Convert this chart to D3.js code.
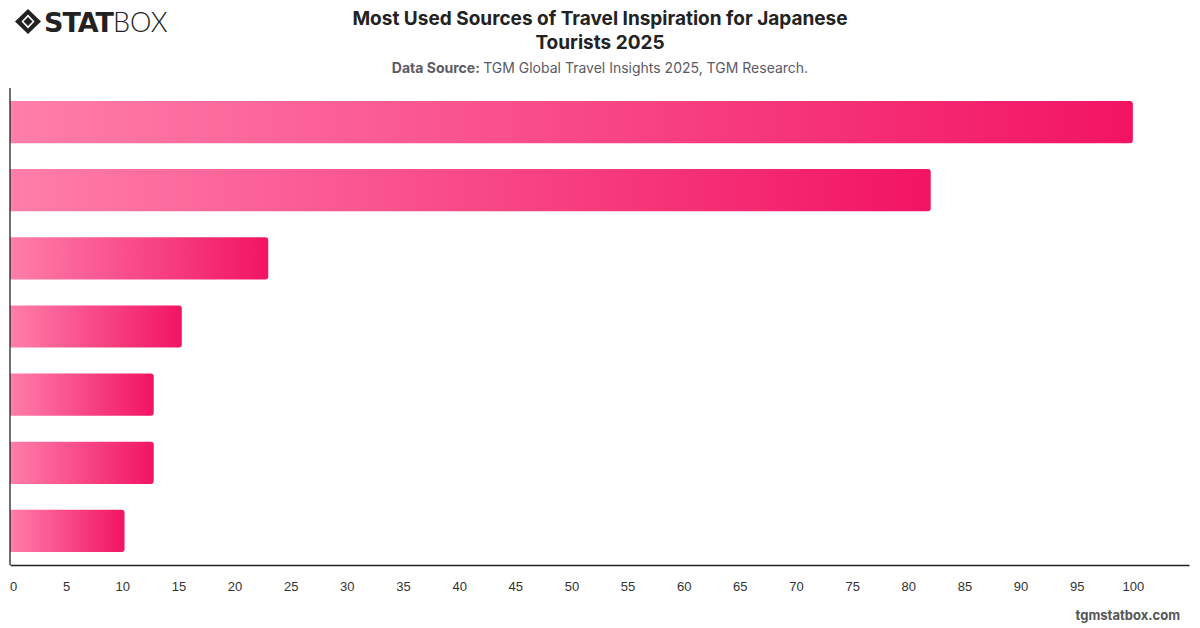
<!DOCTYPE html>
<html>
<head>
<meta charset="utf-8">
<script src="https://cdn.jsdelivr.net/npm/d3@7"></script>
<style>
  body { margin: 0; background: #fff; }
  svg { font-family: Inter, "Noto Sans", sans-serif; }
</style>
</head>
<body>
<svg id="chart" width="1200" height="628"></svg>
<script>
// data (category names are not shown on the chart)
var categories = ['Source 1', 'Source 2', 'Source 3', 'Source 4', 'Source 5', 'Source 6', 'Source 7'];
var values = [100, 82, 23, 15.3, 12.8, 12.8, 10.2];
var tickValues = [0, 5, 10, 15, 20, 25, 30, 35, 40, 45, 50, 55, 60, 65, 70, 75, 80, 85, 90, 95, 100];

var svg = d3.select('#chart');

var margin = { top: 88, left: 10, bottom: 63, right: 11 };
var width = 1200 - margin.left - margin.right;
var height = 628 - margin.top - margin.bottom;

var data = categories.map(function(c, i) { return { key: c, value: values[i] }; });

// gradient for bars
var defs = svg.append('defs');
var grad = defs.append('linearGradient')
  .attr('id', 'barGrad')
  .attr('x1', '0%').attr('x2', '100%')
  .attr('y1', '0%').attr('y2', '0%');
grad.append('stop').attr('offset', '0%').attr('stop-color', '#ff7eaa');
grad.append('stop').attr('offset', '100%').attr('stop-color', '#f21463');

var xScale = d3.scaleLinear()
  .domain([0, 105])
  .range([0, width]);

var yScale = d3.scaleBand()
  .domain(categories)
  .range([0, height])
  .paddingInner(0.38)
  .paddingOuter(0.19);

var g = svg.append('g')
  .attr('transform', 'translate(' + margin.left + ',' + margin.top + ')');

// bars, rounded on the right end only
var r = 3;
g.append('g')
  .attr('class', 'bars')
  .selectAll('path')
  .data(data)
  .enter()
  .append('path')
  .attr('d', function(d) {
    var x0 = 0, x1 = xScale(d.value);
    var y0 = yScale(d.key), h = yScale.bandwidth();
    return 'M' + x0 + ',' + y0 +
      'H' + (x1 - r) +
      'Q' + x1 + ',' + y0 + ' ' + x1 + ',' + (y0 + r) +
      'V' + (y0 + h - r) +
      'Q' + x1 + ',' + (y0 + h) + ' ' + (x1 - r) + ',' + (y0 + h) +
      'H' + x0 + 'Z';
  })
  .attr('fill', 'url(#barGrad)');

// x axis
var xAxis = d3.axisBottom(xScale)
  .tickValues(tickValues)
  .tickSize(0)
  .tickPadding(17)
  .tickFormat(d3.format('d'));

var xg = g.append('g')
  .attr('class', 'x-axis')
  .attr('transform', 'translate(0,' + height + ')')
  .call(xAxis);
xg.select('.domain').attr('stroke', '#222').attr('stroke-width', 1.3);
xg.selectAll('text').attr('font-size', 13).attr('fill', '#333');
xg.selectAll('.tick').filter(function(d) { return d === 0; })
  .select('text').attr('dx', 3);

// y axis line
g.append('line')
  .attr('x1', 0).attr('x2', 0)
  .attr('y1', 0).attr('y2', height)
  .attr('stroke', '#222').attr('stroke-width', 1.3);

// title
svg.append('text')
  .attr('x', 600).attr('y', 25)
  .attr('text-anchor', 'middle')
  .attr('font-size', 19).attr('font-weight', 'bold').attr('fill', '#222')
  .text('Most Used Sources of Travel Inspiration for Japanese');
svg.append('text')
  .attr('x', 600).attr('y', 49)
  .attr('text-anchor', 'middle')
  .attr('font-size', 19).attr('font-weight', 'bold').attr('fill', '#222')
  .text('Tourists 2025');

var sub = svg.append('text')
  .attr('x', 600).attr('y', 73)
  .attr('text-anchor', 'middle')
  .attr('font-size', 14).attr('fill', '#5a5a66');
sub.append('tspan').attr('font-weight', 'bold').text('Data Source: ');
sub.append('tspan').text('TGM Global Travel Insights 2025, TGM Research.');

// logo
var logo = svg.append('g').attr('transform', 'translate(15,9)');
logo.append('path')
  .attr('d', 'M13,0 L26,12.5 L13,25 L0,12.5 Z M13,5.5 L19.5,12.5 L13,19.5 L6.5,12.5 Z')
  .attr('fill', '#222').attr('fill-rule', 'evenodd');
logo.append('path')
  .attr('d', 'M13,8 L17.5,12.5 L13,17 L8.5,12.5 Z')
  .attr('fill', '#222');
var lt = logo.append('text')
  .attr('x', 29).attr('y', 23)
  .attr('font-size', 27).attr('fill', '#222')
  .attr('font-family', '"DejaVu Sans", sans-serif');
lt.append('tspan').attr('font-weight', 900).attr('letter-spacing', -1).text('STAT');
lt.append('tspan').attr('font-weight', 300).attr('font-family', 'Lato, sans-serif').text('BOX');

// footer
svg.append('text')
  .attr('x', 1180).attr('y', 620)
  .attr('text-anchor', 'end')
  .attr('font-size', 13).attr('font-weight', 'bold').attr('fill', '#555')
  .text('tgmstatbox.com');
</script>
</body>
</html>
